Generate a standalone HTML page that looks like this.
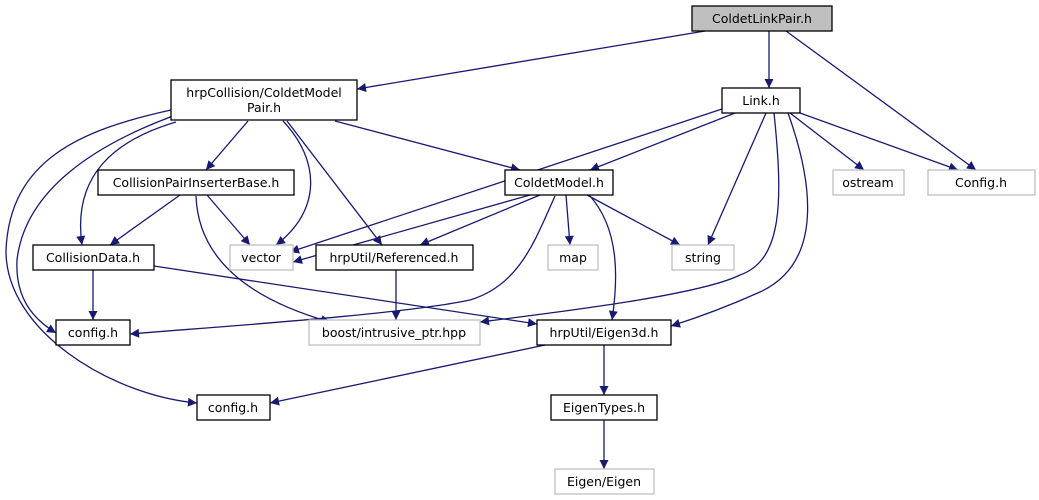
<!DOCTYPE html>
<html><head><meta charset="utf-8"><style>
html,body{margin:0;padding:0;background:#fff;}
svg{display:block;}
text{font-family:"DejaVu Sans","Liberation Sans",sans-serif;font-size:12.5px;fill:#000;text-anchor:middle;}
.e{fill:none;stroke:#191970;stroke-width:1.3;marker-end:url(#a);}
.n{fill:#fff;stroke:#000;stroke-width:1.3;}
.g{fill:#fff;stroke:#bfbfbf;stroke-width:1.3;}
</style></head><body>
<svg width="1039" height="500" viewBox="0 0 1039 500">
<defs><marker id="a" viewBox="0 0 10 10" refX="10" refY="5" markerWidth="11" markerHeight="9" markerUnits="userSpaceOnUse" orient="auto"><path d="M0,0 L10,5 L0,10 z" fill="#191970"/></marker></defs>
<path class="e" d="M705,31 L357,89"/>
<path class="e" d="M769,31 L769,88"/>
<path class="e" d="M786,31 L976,170"/>
<path class="e" d="M248,121 L206,170"/>
<path class="e" d="M335,121 L520,170"/>
<path class="e" d="M283,121 C320,160 322,210 276,245"/>
<path class="e" d="M287,121 L382,245"/>
<path class="e" d="M176,122 C115,140 72,175 82,245"/>
<path class="e" d="M173,116 C95,145 25,190 17,260 C15,300 35,320 56,333"/>
<path class="e" d="M171,110 C80,130 10,160 6,250 C5,330 110,395 197,403"/>
<path class="e" d="M180,195 L110,245"/>
<path class="e" d="M207,195 L250,245"/>
<path class="e" d="M196,196 C198,250 235,295 330,322"/>
<path class="e" d="M722,109 L290,252"/>
<path class="e" d="M735,113 L590,170"/>
<path class="e" d="M766,113 L708,245"/>
<path class="e" d="M774,113 C783,200 783,260 740,275 C700,295 560,312 480,322"/>
<path class="e" d="M788,113 C812,180 825,262 760,292 C720,310 690,320 671,326"/>
<path class="e" d="M790,113 L864,170"/>
<path class="e" d="M800,113 L958,170"/>
<path class="e" d="M530,195 L293,262"/>
<path class="e" d="M540,195 L420,245"/>
<path class="e" d="M566,195 L570,245"/>
<path class="e" d="M587,195 L680,245"/>
<path class="e" d="M555,196 C535,240 520,285 470,300 C400,315 200,328 130,334"/>
<path class="e" d="M590,196 C620,230 618,280 612,320"/>
<path class="e" d="M154,266 L537,324"/>
<path class="e" d="M93,270 L93,320"/>
<path class="e" d="M396,270 L396,320"/>
<path class="e" d="M545,345 L270,403"/>
<path class="e" d="M604,345 L604,395"/>
<path class="e" d="M604,420 L604,469"/>

<rect x="692" y="6" width="140" height="25" fill="#bfbfbf" stroke="#000" stroke-width="1.3"/><text x="762" y="23">ColdetLinkPair.h</text>
<rect class="n" x="171" y="80" width="186" height="40"/><text x="264" y="97">hrpCollision/ColdetModel</text><text x="264" y="112">Pair.h</text>
<rect class="n" x="722" y="88" width="78" height="25"/><text x="761" y="105">Link.h</text>
<rect class="n" x="98" y="170" width="196" height="25"/><text x="196" y="187">CollisionPairInserterBase.h</text>
<rect class="n" x="505" y="170" width="108" height="25"/><text x="559" y="187">ColdetModel.h</text>
<rect class="g" x="833" y="170" width="71" height="25"/><text x="868" y="187">ostream</text>
<rect class="g" x="928" y="170" width="107" height="25"/><text x="981" y="187">Config.h</text>
<rect class="n" x="33" y="245" width="121" height="25"/><text x="93" y="262">CollisionData.h</text>
<rect class="g" x="230" y="245" width="63" height="25"/><text x="261" y="262">vector</text>
<rect class="n" x="316" y="245" width="157" height="25"/><text x="394" y="262">hrpUtil/Referenced.h</text>
<rect class="g" x="548" y="245" width="50" height="25"/><text x="573" y="262">map</text>
<rect class="g" x="672" y="245" width="62" height="25"/><text x="703" y="262">string</text>
<rect class="n" x="56" y="320" width="74" height="25"/><text x="93" y="337">config.h</text>
<rect class="g" x="309" y="320" width="171" height="25"/><text x="394" y="337">boost/intrusive_ptr.hpp</text>
<rect class="n" x="537" y="320" width="134" height="25"/><text x="604" y="337">hrpUtil/Eigen3d.h</text>
<rect class="n" x="197" y="395" width="73" height="25"/><text x="233" y="412">config.h</text>
<rect class="n" x="551" y="395" width="106" height="25"/><text x="604" y="412">EigenTypes.h</text>
<rect class="g" x="555" y="469" width="99" height="25"/><text x="604" y="486">Eigen/Eigen</text>
</svg>
</body></html>
